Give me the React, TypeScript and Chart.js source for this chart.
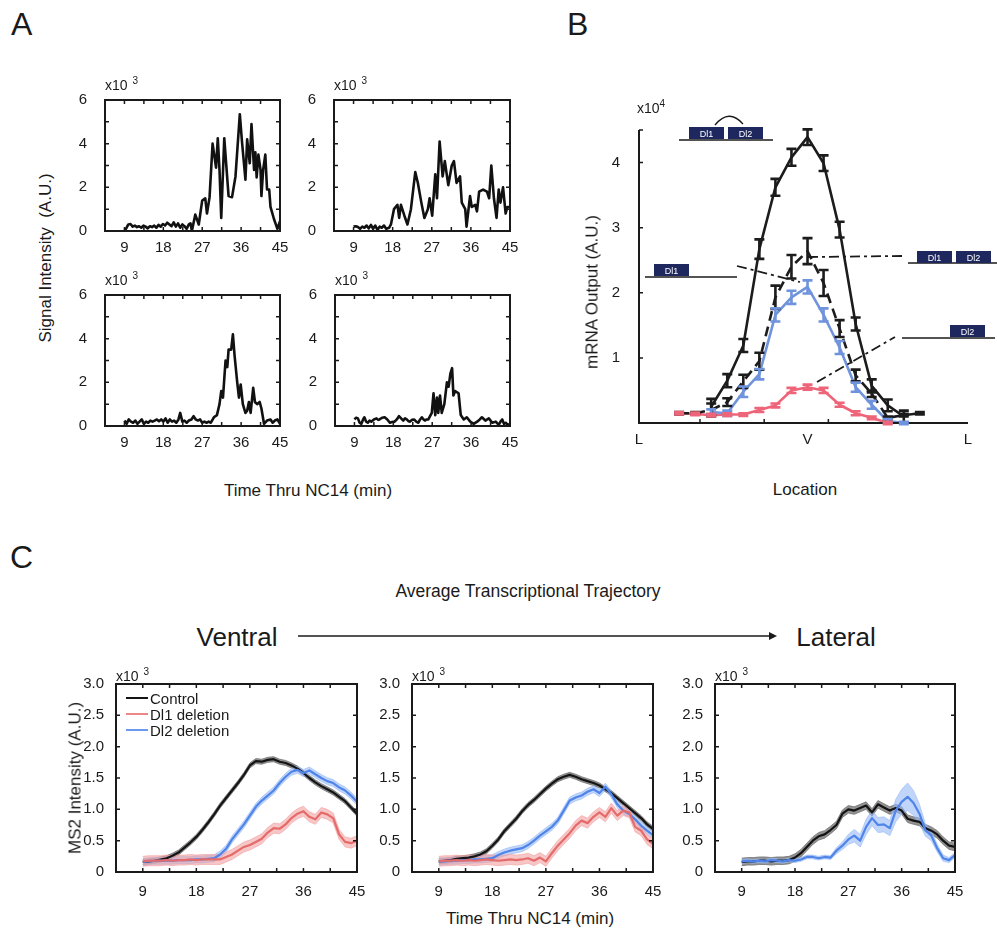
import React, { useEffect, useRef } from 'react';
import { Chart, registerables } from 'chart.js';

Chart.register(...registerables);

const FONT = '"Liberation Sans", Arial, Helvetica, sans-serif';
const INK = '#1a1a1a';

// ---------------- Panel A : single-nucleus traces ----------------
const A_X_TICKS = [9, 18, 27, 36, 45];
const A_X_MARKS = [9, 13.5, 18, 22.5, 27, 31.5, 36, 40.5, 45];
const A_Y_TICKS = [0, 2, 4, 6];
const A_Y_MARKS = [0, 1, 2, 3, 4, 5, 6];

const A1_TRACE = [[9.0,0],[9.5,0.15],[9.9,0.3],[10.4,0.32],[10.9,0.2],[11.4,0.25],[11.9,0.18],[12.4,0.22],[12.9,0.15],[13.4,0.25],[13.9,0.2],[14.4,0.12],[14.9,0.22],[15.4,0.18],[15.9,0.25],[16.4,0.15],[16.9,0.28],[17.4,0.2],[17.9,0.32],[18.4,0.25],[18.9,0.38],[19.4,0.3],[19.9,0.22],[20.4,0.4],[20.9,0.2],[21.4,0.35],[21.9,0.15],[22.4,0.3],[22.9,0.22],[23.4,0.1],[23.9,0.3],[24.3,0.35],[24.6,0.0],[25.4,0.75],[26.2,0.3],[27.0,1.4],[27.7,1.5],[28.1,0.8],[28.7,1.55],[29.4,4.0],[30.2,2.9],[30.6,4.25],[31.0,2.8],[31.4,0.6],[32.1,4.25],[33.1,1.6],[33.9,1.55],[34.7,2.5],[35.7,5.35],[36.2,4.1],[37.0,2.35],[37.4,4.2],[38.0,3.1],[38.4,4.9],[39.0,2.8],[39.3,3.6],[39.6,2.45],[40.0,3.5],[40.5,2.8],[40.7,1.6],[41.1,2.8],[41.6,3.5],[42.0,1.9],[42.5,1.9],[42.8,1.1],[43.6,0.55],[44.4,0.1],[45.0,0.45]];
const A2_TRACE = [[9.0,0.2],[9.5,0.22],[10.0,0.18],[10.5,0.1],[11.0,0.2],[11.5,0.15],[12.0,0.25],[12.5,0.12],[13.0,0.28],[13.5,0.1],[14.0,0.25],[14.5,0.05],[15.0,0.2],[15.5,0.15],[16.0,0.25],[16.5,0.1],[17.2,0.15],[17.6,0.3],[18.3,1.0],[19.1,1.2],[19.5,0.6],[19.9,1.2],[20.7,0.7],[21.4,0.3],[22.2,1.0],[23.2,2.7],[23.8,2.2],[24.6,1.3],[25.3,0.6],[26.1,1.0],[26.5,1.5],[27.1,0.7],[27.8,2.6],[28.2,1.5],[28.8,4.1],[29.5,2.5],[30.0,3.2],[30.8,2.1],[31.6,3.0],[32.1,3.2],[32.7,2.2],[33.5,2.5],[33.9,1.3],[34.7,1.0],[35.0,0.2],[35.8,1.6],[36.2,1.1],[37.0,1.2],[37.4,0.9],[37.9,1.8],[38.8,1.9],[39.7,1.8],[40.2,1.5],[40.7,3.0],[41.3,1.5],[41.9,0.6],[42.4,1.9],[42.8,1.3],[43.4,2.0],[44.0,0.8],[44.4,1.1],[45.0,1.1]];
const A3_TRACE = [[9.0,0.25],[9.5,0.1],[10.0,0.3],[10.5,0.2],[11.0,0.15],[11.5,0.25],[12.0,0.1],[12.5,0.2],[13.0,0.3],[13.5,0.1],[14.0,0.2],[14.5,0.15],[15.0,0.25],[15.5,0.2],[16.0,0.25],[16.5,0.3],[17.0,0.22],[17.5,0.3],[18.0,0.2],[18.5,0.35],[19.0,0.15],[19.5,0.3],[20.0,0.2],[20.5,0.25],[21.0,0.15],[21.5,0.3],[21.9,0.6],[22.4,0.2],[22.9,0.25],[23.4,0.15],[23.9,0.25],[24.5,0.3],[25.0,0.45],[25.5,0.3],[26.0,0.25],[26.5,0.3],[27.0,0.15],[27.5,0.2],[28.0,0.15],[28.5,0.2],[29.0,0.15],[29.7,0.4],[30.4,0.5],[31.0,1.0],[31.4,1.6],[31.8,1.3],[32.4,3.0],[32.8,2.7],[33.1,3.5],[33.7,3.5],[34.1,4.2],[34.5,3.2],[35.1,2.0],[35.5,1.3],[35.9,1.9],[36.4,1.0],[37.0,0.6],[37.4,0.7],[37.8,1.1],[38.2,0.6],[38.8,1.75],[39.2,1.1],[39.7,1.0],[40.3,1.1],[40.7,0.8],[41.3,0.1],[42.0,0.25],[42.8,0.3],[43.3,0.15],[43.8,0.25],[44.4,0.3],[45.0,0.1]];
const A4_TRACE = [[9.0,0.3],[9.4,0.38],[9.8,0.35],[10.2,0.15],[10.6,0.1],[11.0,0.3],[11.3,0.4],[11.7,0.2],[12.1,0.15],[12.5,0.25],[12.9,0.2],[13.5,0.3],[14.1,0.35],[14.5,0.28],[14.8,0.3],[15.4,0.38],[16.0,0.4],[16.6,0.3],[17.2,0.15],[17.7,0.18],[18.3,0.2],[18.8,0.3],[19.3,0.45],[19.8,0.35],[20.3,0.25],[20.7,0.35],[21.1,0.3],[21.5,0.22],[21.8,0.2],[22.3,0.28],[22.8,0.3],[23.3,0.2],[23.8,0.15],[24.2,0.3],[24.6,0.4],[25.0,0.3],[25.3,0.25],[25.7,0.3],[26.1,0.3],[26.5,0.45],[26.9,0.6],[27.3,1.5],[27.7,0.5],[28.1,1.3],[28.4,0.6],[28.8,1.4],[29.2,0.6],[29.8,1.0],[30.4,2.0],[30.8,1.8],[31.2,2.4],[31.6,2.65],[31.9,1.4],[32.3,1.6],[33.1,1.5],[33.6,0.5],[34.3,0.3],[35.0,0.4],[35.8,0.2],[36.6,0.1],[37.4,0.2],[38.0,0.3],[38.5,0.4],[39.3,0.25],[40.1,0.35],[40.9,0.15],[41.7,0.2],[42.4,0.05],[42.8,0.2],[43.2,0.3],[43.6,0.1],[44.0,0.15],[44.5,0.05],[45.0,0.1]];

// ---------------- Panel B : mRNA output vs location ----------------
const B_X_TICKS = [-10.5, 0, 10];
const B_X_LABELS = ['L', 'V', 'L'];
const B_X_MARKS = [-6.7, -2.7, 1.3];
const B_Y_TICKS = [1, 2, 3, 4];
const B_Y_MARKS = [1, 2, 3, 4, 4.5];

const B_CTRL_X = [-6, -5, -4, -3, -2, -1, 0, 1, 2, 3, 4, 5, 6];
const B_CTRL = [0.25, 0.65, 1.19, 2.67, 3.62, 4.08, 4.39, 3.99, 2.97, 1.52, 0.57, 0.27, 0.1];
const B_CTRL_ERR = [0.12, 0.1, 0.1, 0.15, 0.13, 0.13, 0.12, 0.12, 0.12, 0.1, 0.1, 0.09, 0.09];

const B_SUM_X = [-8, -7, -6, -5, -4, -3, -2, -1, 0, 1, 2, 3, 4, 5, 6, 7];
const B_SUM = [0.15, 0.15, 0.2, 0.32, 0.64, 0.95, 1.93, 2.4, 2.64, 2.15, 1.45, 0.73, 0.45, 0.08, 0.12, 0.15];
const B_SUM_ERR = [0.02, 0.02, 0.1, 0.06, 0.1, 0.13, 0.18, 0.18, 0.2, 0.2, 0.13, 0.09, 0.05, 0.02, 0.02, 0.02];

const B_DL2DEL_X = [-6, -5, -4, -3, -2, -1, 0, 1, 2, 3, 4, 5, 6];
const B_DL2DEL = [0.17, 0.15, 0.48, 0.75, 1.66, 1.93, 2.09, 1.66, 1.16, 0.55, 0.28, 0.03, 0];
const B_DL2DEL_ERR = [0.04, 0.04, 0.08, 0.08, 0.1, 0.1, 0.1, 0.1, 0.1, 0.07, 0.06, 0.03, 0.02];

const B_DL1DEL_X = [-8, -7, -6, -5, -4, -3, -2, -1, 0, 1, 2, 3, 4, 5];
const B_DL1DEL = [0.15, 0.14, 0.12, 0.13, 0.13, 0.2, 0.27, 0.5, 0.55, 0.5, 0.28, 0.15, 0.08, 0];
const B_DL1DEL_ERR = [0.02, 0.02, 0.02, 0.02, 0.02, 0.03, 0.03, 0.04, 0.04, 0.04, 0.03, 0.03, 0.02, 0.02];

// ---------------- Panel C : average trajectories ----------------
const C_T = [9,10,11,12,13,14,15,16,17,18,19,20,21,22,23,24,25,26,27,28,29,30,31,32,33,34,35,36,37,38,39,40,41,42,43,44,45];
const C_X_TICKS = [9, 18, 27, 36, 45];
const C_X_MARKS = [9, 13.5, 18, 22.5, 27, 31.5, 36, 40.5, 45];
const C_Y_TICKS = [0, 0.5, 1, 1.5, 2, 2.5, 3];

const C1_CONTROL = [0.16,0.17,0.18,0.2,0.22,0.26,0.31,0.39,0.47,0.56,0.67,0.79,0.92,1.06,1.18,1.3,1.42,1.55,1.7,1.77,1.76,1.79,1.8,1.76,1.74,1.7,1.65,1.58,1.5,1.43,1.37,1.32,1.27,1.2,1.13,1.03,0.93];
const C1_DL1 = [0.17,0.18,0.18,0.18,0.19,0.18,0.19,0.19,0.2,0.19,0.2,0.2,0.2,0.2,0.24,0.28,0.34,0.4,0.43,0.48,0.53,0.63,0.7,0.69,0.76,0.86,0.93,0.97,0.88,0.84,0.95,0.92,0.86,0.6,0.48,0.46,0.5];
const C1_DL2 = [0.16,0.17,0.18,0.18,0.18,0.18,0.19,0.19,0.19,0.2,0.2,0.21,0.22,0.28,0.37,0.52,0.64,0.76,0.9,1.04,1.14,1.22,1.3,1.42,1.52,1.6,1.63,1.58,1.62,1.56,1.5,1.45,1.42,1.35,1.3,1.22,1.12];

const C2_CONTROL = [0.17,0.18,0.19,0.21,0.22,0.23,0.25,0.28,0.33,0.42,0.52,0.65,0.75,0.85,0.97,1.07,1.15,1.24,1.33,1.41,1.48,1.52,1.55,1.52,1.48,1.45,1.42,1.38,1.32,1.26,1.18,1.1,1.02,0.94,0.86,0.76,0.69];
const C2_DL1 = [0.17,0.18,0.18,0.19,0.18,0.19,0.18,0.19,0.2,0.19,0.18,0.19,0.2,0.19,0.2,0.22,0.18,0.23,0.17,0.3,0.42,0.52,0.62,0.74,0.82,0.78,0.88,0.95,0.88,1.02,0.9,0.98,0.95,0.72,0.66,0.52,0.45];
const C2_DL2 = [0.17,0.17,0.18,0.18,0.19,0.19,0.2,0.2,0.21,0.22,0.27,0.31,0.34,0.36,0.38,0.43,0.5,0.58,0.65,0.72,0.82,0.98,1.14,1.19,1.22,1.28,1.32,1.26,1.36,1.24,1.08,0.98,0.93,0.84,0.74,0.66,0.59];

const C3_CONTROL = [0.16,0.17,0.17,0.18,0.18,0.17,0.18,0.18,0.19,0.23,0.3,0.4,0.5,0.57,0.6,0.67,0.75,0.93,1.0,0.98,1.02,1.06,0.95,1.08,1.03,0.98,1.02,0.98,0.85,0.82,0.8,0.7,0.66,0.6,0.5,0.42,0.4];
const C3_DL2 = [0.17,0.18,0.17,0.18,0.17,0.19,0.18,0.17,0.19,0.18,0.2,0.24,0.24,0.22,0.24,0.23,0.34,0.42,0.52,0.58,0.5,0.72,0.86,0.75,0.76,0.7,0.98,1.12,1.2,1.1,0.93,0.67,0.58,0.38,0.22,0.19,0.27];
const C3_DL2_SEM = [0.03,0.03,0.03,0.03,0.03,0.03,0.03,0.03,0.03,0.03,0.03,0.03,0.03,0.03,0.03,0.03,0.05,0.06,0.08,0.1,0.1,0.12,0.12,0.12,0.12,0.12,0.18,0.2,0.22,0.2,0.15,0.1,0.08,0.06,0.05,0.04,0.04];

const SEM_CONTROL = 0.04;
const SEM_DL1 = 0.08;
const SEM_DL2 = 0.055;
const SEM_C3_CONTROL = 0.06;

const COL = {
  black: '#141414', blackBand: 'rgba(110,110,110,0.75)',
  pink: '#e56b6b', pinkBand: 'rgba(242,160,160,0.6)',
  blue: '#4f84ea', blueBand: 'rgba(150,185,245,0.6)',
  bBlue: '#6f93dc', bPink: '#ee6479', navy: '#1f285e',
};

// ---------------- plugins ----------------
function makeBoxPlugin(box: boolean, xMarks: number[], yMarks: number[]) {
  return {
    id: 'mbox',
    afterDatasetsDraw(chart: any) {
      const { ctx, chartArea: a, scales } = chart;
      const x = scales.x, y = scales.y;
      ctx.save();
      ctx.setLineDash([]);
      ctx.strokeStyle = INK;
      ctx.lineWidth = 2;
      ctx.beginPath();
      if (box) ctx.rect(a.left, a.top, a.right - a.left, a.bottom - a.top);
      else { ctx.moveTo(a.left, a.top); ctx.lineTo(a.left, a.bottom); ctx.lineTo(a.right, a.bottom); }
      ctx.stroke();
      ctx.lineWidth = 1.5;
      ctx.beginPath();
      const L = 4;
      xMarks.forEach((v) => {
        const px = x.getPixelForValue(v);
        ctx.moveTo(px, a.bottom); ctx.lineTo(px, a.bottom - L);
        if (box) { ctx.moveTo(px, a.top); ctx.lineTo(px, a.top + L); }
      });
      yMarks.forEach((v) => {
        const py = y.getPixelForValue(v);
        ctx.moveTo(a.left, py); ctx.lineTo(a.left + L, py);
        if (box) { ctx.moveTo(a.right, py); ctx.lineTo(a.right - L, py); }
      });
      ctx.stroke();
      ctx.restore();
    },
  };
}

const errPlugin = {
  id: 'errbars',
  afterDatasetsDraw(chart: any) {
    const { ctx, scales } = chart;
    const x = scales.x, y = scales.y;
    chart.data.datasets.forEach((ds: any) => {
      if (!ds.errors) return;
      ctx.save();
      ctx.setLineDash([]);
      ctx.strokeStyle = ds.borderColor;
      ctx.lineWidth = 2.6;
      ctx.beginPath();
      ds.data.forEach((p: any, j: number) => {
        const e = ds.errors[j];
        const px = x.getPixelForValue(p.x);
        const y1 = y.getPixelForValue(p.y - e);
        const y2 = y.getPixelForValue(p.y + e);
        ctx.moveTo(px, y1); ctx.lineTo(px, y2);
        ctx.moveTo(px - 5, y1); ctx.lineTo(px + 5, y1);
        ctx.moveTo(px - 5, y2); ctx.lineTo(px + 5, y2);
      });
      ctx.stroke();
      ctx.restore();
    });
  },
};

type Axis = { min: number; max: number; ticks: number[]; label: (v: number, i: number) => string; marks: number[]; pad: number };
type Frame = { l: number; t: number; w: number; h: number; yw: number; xh: number; pt: number; pr: number };

function makeConfig(datasets: any[], fr: Frame, xa: Axis, ya: Axis, box: boolean, tickSize: number): any {
  const tickFont = { family: FONT, size: tickSize };
  return {
    type: 'line',
    data: { datasets },
    options: {
      responsive: false,
      animation: false,
      devicePixelRatio: 1,
      layout: { padding: { top: fr.pt, right: fr.pr, left: 0, bottom: 0 } },
      plugins: { legend: { display: false }, tooltip: { enabled: false } },
      elements: { point: { radius: 0 }, line: { tension: 0, borderJoinStyle: 'round' } },
      scales: {
        x: {
          type: 'linear', min: xa.min, max: xa.max,
          afterBuildTicks: (s: any) => { s.ticks = xa.ticks.map((v) => ({ value: v })); },
          afterFit: (s: any) => { s.height = fr.xh; },
          ticks: { autoSkip: false, maxRotation: 0, padding: xa.pad, color: INK, font: tickFont,
            callback: (v: any, i: number) => xa.label(Number(v), i) },
          grid: { display: false }, border: { display: false },
        },
        y: {
          type: 'linear', min: ya.min, max: ya.max,
          afterBuildTicks: (s: any) => { s.ticks = ya.ticks.map((v) => ({ value: v })); },
          afterFit: (s: any) => { s.width = fr.yw; },
          ticks: { autoSkip: false, padding: ya.pad, color: INK, font: tickFont,
            callback: (v: any, i: number) => ya.label(Number(v), i) },
          grid: { display: false }, border: { display: false },
        },
      },
    },
    plugins: [makeBoxPlugin(box, xa.marks, ya.marks), errPlugin],
  };
}

function Plot({ fr, build }: { fr: Frame; build: () => any }) {
  const ref = useRef<HTMLCanvasElement>(null);
  const W = fr.w + fr.yw + fr.pr;
  const H = fr.h + fr.pt + fr.xh;
  useEffect(() => {
    const chart = new Chart(ref.current as HTMLCanvasElement, build());
    return () => chart.destroy();
  }, []);
  return (
    <canvas ref={ref} width={W} height={H}
      style={{ position: 'absolute', left: fr.l - fr.yw, top: fr.t - fr.pt, width: W, height: H }} />
  );
}

// ---------------- dataset builders ----------------
const pairs = (tr: number[][]) => tr.map(([x, y]) => ({ x, y }));
const zipXY = (xs: number[], ys: number[]) => xs.map((x, i) => ({ x, y: ys[i] }));

function traceSet(tr: number[][]) {
  return [{ data: pairs(tr), borderColor: '#111', borderWidth: 2.6, fill: false }];
}

type Series = { mean: number[]; sem: number | number[]; line: string; band: string };
function bandSets(series: Series[]) {
  const out: any[] = [];
  series.forEach((s, k) => {
    const sem = (i: number) => (Array.isArray(s.sem) ? s.sem[i] : s.sem);
    const lowIdx = out.length;
    out.push({ data: C_T.map((t, i) => ({ x: t, y: s.mean[i] - sem(i) })), borderColor: s.band, borderWidth: 1, fill: false, order: 20 + k });
    out.push({ data: C_T.map((t, i) => ({ x: t, y: s.mean[i] + sem(i) })), borderColor: s.band, borderWidth: 1, backgroundColor: s.band, fill: { target: lowIdx }, order: 20 + k });
    out.push({ data: zipXY(C_T, s.mean), borderColor: s.line, borderWidth: 2.2, fill: false, order: k });
  });
  return out;
}

// ---------------- frames ----------------
const A_FRAMES: Frame[] = [
  { l: 105, t: 93, w: 175, h: 138, yw: 30, xh: 26, pt: 12, pr: 14 },
  { l: 334, t: 93, w: 176, h: 138, yw: 30, xh: 26, pt: 12, pr: 14 },
  { l: 105, t: 288, w: 175, h: 138, yw: 30, xh: 26, pt: 12, pr: 14 },
  { l: 335, t: 288, w: 175, h: 138, yw: 30, xh: 26, pt: 12, pr: 14 },
];
const A_TRACES = [A1_TRACE, A2_TRACE, A3_TRACE, A4_TRACE];
const B_FRAME: Frame = { l: 639, t: 122, w: 329, h: 301, yw: 40, xh: 30, pt: 12, pr: 14 };
const C_FRAMES: Frame[] = [
  { l: 116, t: 683, w: 241, h: 189, yw: 40, xh: 30, pt: 12, pr: 14 },
  { l: 412, t: 683, w: 241, h: 189, yw: 40, xh: 30, pt: 12, pr: 14 },
  { l: 715, t: 683, w: 240, h: 189, yw: 40, xh: 30, pt: 12, pr: 14 },
];

const aX: Axis = { min: 4.5, max: 45, ticks: A_X_TICKS, label: (v) => String(v), marks: A_X_MARKS, pad: 0 };
const aY: Axis = { min: 0, max: 6, ticks: A_Y_TICKS, label: (v) => String(v), marks: A_Y_MARKS, pad: 10 };
const cX: Axis = { min: 4.5, max: 45, ticks: C_X_TICKS, label: (v) => String(v), marks: C_X_MARKS, pad: 3 };
const cY: Axis = { min: 0, max: 3, ticks: C_Y_TICKS, label: (v) => (v === 0 ? '0' : v.toFixed(1)), marks: C_Y_TICKS, pad: 4 };
const bX: Axis = { min: -10.5, max: 10, ticks: B_X_TICKS, label: (_v, i) => B_X_LABELS[i], marks: B_X_MARKS, pad: 0 };
const bY: Axis = { min: 0, max: 4.5, ticks: B_Y_TICKS, label: (v) => String(v), marks: B_Y_MARKS, pad: 11 };

function buildB() {
  const ds = [
    { data: zipXY(B_CTRL_X, B_CTRL), errors: B_CTRL_ERR, borderColor: '#1c1c1c', borderWidth: 2.6, fill: false, order: 0 },
    { data: zipXY(B_SUM_X, B_SUM), errors: B_SUM_ERR, borderColor: '#1c1c1c', borderWidth: 2.6, borderDash: [10, 6], fill: false, order: 1 },
    { data: zipXY(B_DL2DEL_X, B_DL2DEL), errors: B_DL2DEL_ERR, borderColor: COL.bBlue, borderWidth: 2.6, fill: false, order: 2 },
    { data: zipXY(B_DL1DEL_X, B_DL1DEL), errors: B_DL1DEL_ERR, borderColor: COL.bPink, borderWidth: 2.6, fill: false, order: 3 },
  ];
  return makeConfig(ds, B_FRAME, bX, bY, false, 15);
}

const C_SERIES: Series[][] = [
  [
    { mean: C1_DL1, sem: SEM_DL1, line: COL.pink, band: COL.pinkBand },
    { mean: C1_DL2, sem: SEM_DL2, line: COL.blue, band: COL.blueBand },
    { mean: C1_CONTROL, sem: SEM_CONTROL, line: COL.black, band: COL.blackBand },
  ],
  [
    { mean: C2_DL1, sem: SEM_DL1, line: COL.pink, band: COL.pinkBand },
    { mean: C2_DL2, sem: SEM_DL2, line: COL.blue, band: COL.blueBand },
    { mean: C2_CONTROL, sem: SEM_CONTROL, line: COL.black, band: COL.blackBand },
  ],
  [
    { mean: C3_DL2, sem: C3_DL2_SEM, line: COL.blue, band: COL.blueBand },
    { mean: C3_CONTROL, sem: SEM_C3_CONTROL, line: COL.black, band: COL.blackBand },
  ],
];

// ---------------- text helpers ----------------
const base: React.CSSProperties = { position: 'absolute', fontFamily: FONT, color: INK, whiteSpace: 'nowrap', lineHeight: 1 };
function Center({ x, y, size, rot, children }: { x: number; y: number; size: number; rot?: boolean; children: React.ReactNode }) {
  return <div style={{ ...base, left: x, top: y, fontSize: size, transform: `translate(-50%,-50%)${rot ? ' rotate(-90deg)' : ''}` }}>{children}</div>;
}
function Exp({ x, y, e, gap }: { x: number; y: number; e: string; gap: number }) {
  return (
    <div style={{ ...base, left: x, top: y, fontSize: 14 }}>
      x10<span style={{ fontSize: 10, position: 'relative', top: -6, marginLeft: gap }}>{e}</span>
    </div>
  );
}

function GeneBox({ x, y, label }: { x: number; y: number; label: string }) {
  return (
    <g>
      <rect x={x} y={y} width={35} height={12} fill={COL.navy} />
      <text x={x + 17.5} y={y + 9.5} fontSize={9} fill="#fff" textAnchor="middle" fontFamily={FONT}>{label}</text>
    </g>
  );
}

export default function App() {
  const dashDot = '10 4 3 4';
  return (
    <div style={{ position: 'absolute', left: 0, top: 0, width: 997, height: 941, background: '#fff', overflow: 'hidden' }}>
      {/* Panel letters */}
      <div style={{ ...base, left: 11, top: 8, fontSize: 32 }}>A</div>
      <div style={{ ...base, left: 567, top: 8, fontSize: 32 }}>B</div>
      <div style={{ ...base, left: 10, top: 541, fontSize: 32 }}>C</div>

      {/* Panel A */}
      {A_FRAMES.map((fr, i) => (
        <Plot key={'a' + i} fr={fr} build={() => makeConfig(traceSet(A_TRACES[i]), fr, aX, aY, true, 15)} />
      ))}
      {A_FRAMES.map((fr, i) => <Exp key={'ae' + i} x={fr.l} y={fr.t - 15} e="3" gap={5} />)}
      <Center x={45} y={258} size={17} rot>Signal Intensity&nbsp; (A.U.)</Center>
      <Center x={308} y={490} size={17}>Time Thru NC14 (min)</Center>

      {/* Panel B */}
      <Plot fr={B_FRAME} build={buildB} />
      <Exp x={637} y={101} e="4" gap={0} />
      <Center x={592} y={292} size={17} rot>mRNA Output (A.U.)</Center>
      <Center x={805} y={489} size={17}>Location</Center>

      {/* Panel C */}
      {C_FRAMES.map((fr, i) => (
        <Plot key={'c' + i} fr={fr} build={() => makeConfig(bandSets(C_SERIES[i]), fr, cX, cY, true, 15)} />
      ))}
      {C_FRAMES.map((fr, i) => <Exp key={'ce' + i} x={fr.l} y={fr.t - 14} e="3" gap={5} />)}
      <Center x={528} y={592} size={17.5}>Average Transcriptional Trajectory</Center>
      <Center x={237} y={637} size={26}>Ventral</Center>
      <Center x={836} y={637} size={26}>Lateral</Center>
      <Center x={75} y={778} size={17} rot>MS2 Intensity (A.U.)</Center>
      <Center x={530} y={918} size={17}>Time Thru NC14 (min)</Center>

      {/* Legend in first C plot */}
      {[
        ['Control', COL.black],
        ['Dl1 deletion', '#ef8686'],
        ['Dl2 deletion', '#6b9bf0'],
      ].map(([name, c], i) => (
        <React.Fragment key={name}>
          <div style={{ position: 'absolute', left: 126, top: 697 + i * 16, width: 22, height: 2, background: c }} />
          <div style={{ ...base, left: 150, top: 691 + i * 16, fontSize: 15 }}>{name}</div>
        </React.Fragment>
      ))}

      {/* Overlay drawings: gene diagrams, pointers, arrow */}
      <svg width={997} height={941} style={{ position: 'absolute', left: 0, top: 0, pointerEvents: 'none' }}>
        <line x1={679} y1={140} x2={773} y2={140} stroke={INK} strokeWidth={1.6} />
        <GeneBox x={689} y={127} label="Dl1" />
        <GeneBox x={728} y={127} label="Dl2" />
        <path d="M715,125 Q729,108 743,124" stroke={INK} strokeWidth={1.3} fill="none" />
        <line x1={645} y1={277} x2={737} y2={277} stroke={INK} strokeWidth={1.6} />
        <GeneBox x={654} y={264} label="Dl1" />
        <line x1={737} y1={266} x2={800} y2={282} stroke={INK} strokeWidth={1.8} strokeDasharray={dashDot} />
        <line x1={908} y1={263} x2={997} y2={263} stroke={INK} strokeWidth={1.6} />
        <GeneBox x={917} y={251} label="Dl1" />
        <GeneBox x={956} y={251} label="Dl2" />
        <line x1={808} y1={257} x2={902} y2={256} stroke={INK} strokeWidth={1.8} strokeDasharray={dashDot} />
        <line x1={902} y1={338} x2={995} y2={338} stroke={INK} strokeWidth={1.6} />
        <GeneBox x={950} y={325} label="Dl2" />
        <line x1={817} y1={382} x2={895} y2={337} stroke={INK} strokeWidth={1.8} strokeDasharray={dashDot} />
        <line x1={298} y1={636} x2={770} y2={636} stroke={INK} strokeWidth={1.5} />
        <polygon points="769,632 777,636 769,640" fill={INK} />
      </svg>
    </div>
  );
}
